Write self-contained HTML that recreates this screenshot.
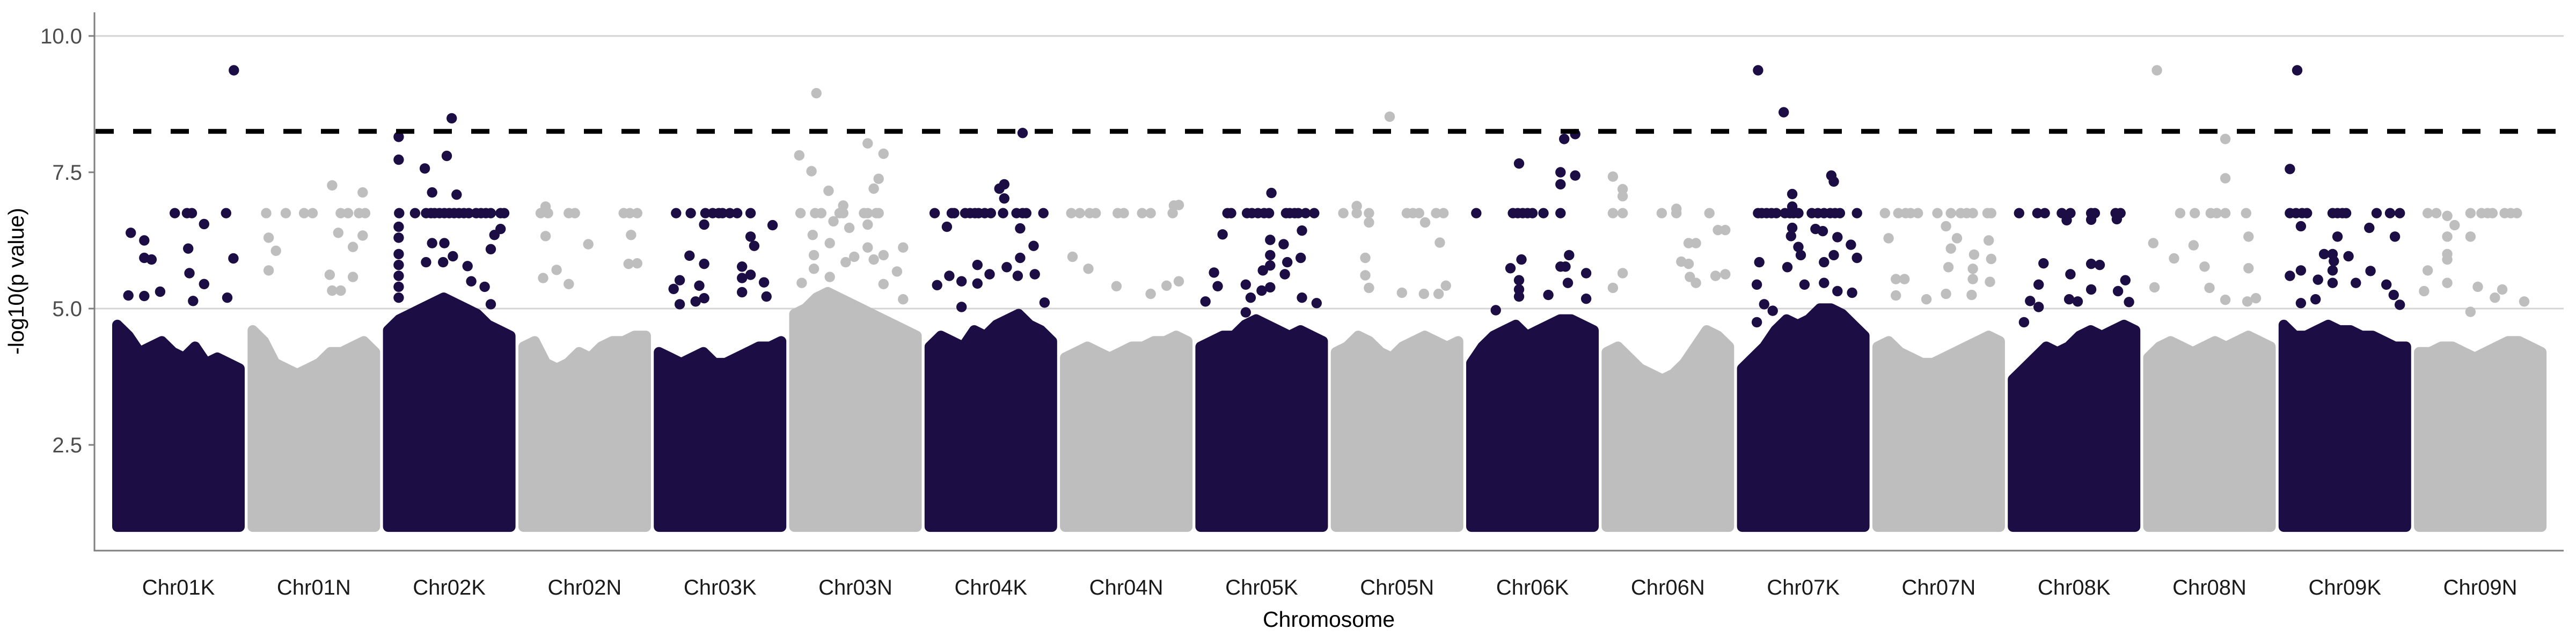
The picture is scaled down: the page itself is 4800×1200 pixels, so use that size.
<!DOCTYPE html>
<html><head><meta charset="utf-8"><style>
html,body{margin:0;padding:0;background:#fff;width:4800px;height:1200px;overflow:hidden}
svg{display:block}
text{font-family:"Liberation Sans",sans-serif}
</style></head><body>
<svg id="chart" width="4800" height="1200" viewBox="0 0 4800 1200" xmlns="http://www.w3.org/2000/svg">
<g id="grid"></g>
<g id="blocks"></g>
<g id="pts"></g>
<g id="thr"></g>
<g id="axes"></g>
<text x="2476" y="1168" font-size="41" text-anchor="middle" fill="#000">Chromosome</text>
<text x="0" y="0" font-size="41" text-anchor="middle" fill="#000" transform="translate(44,524) rotate(-90)">-log10(p value)</text>
</svg>
<script>
const chromosomes = ["Chr01K","Chr01N","Chr02K","Chr02N","Chr03K","Chr03N","Chr04K","Chr04N","Chr05K","Chr05N","Chr06K","Chr06N","Chr07K","Chr07N","Chr08K","Chr08N","Chr09K","Chr09N"];
const yTicks = [2.5, 5.0, 7.5, 10.0];
const yTickLabels = ["2.5","5.0","7.5","10.0"];
const gridValues = [5.0, 10.0];
const threshold = 8.25;
const capLevel = 6.75;
const blockEnvelope = [
[4.7,4.5,4.2,4.3,4.4,4.2,4.1,4.3,4.0,4.1,4.0,3.9],
[4.6,4.4,4.0,3.9,3.8,3.9,4.0,4.2,4.2,4.3,4.4,4.2],
[4.6,4.8,4.9,5.0,5.1,5.2,5.1,5.0,4.9,4.7,4.6,4.5],
[4.3,4.4,4.0,3.9,4.0,4.2,4.1,4.3,4.4,4.4,4.5,4.5],
[4.2,4.1,4.0,4.1,4.2,4.0,4.0,4.1,4.2,4.3,4.3,4.4],
[4.9,5.0,5.2,5.3,5.2,5.1,5.0,4.9,4.8,4.7,4.6,4.5],
[4.3,4.5,4.4,4.3,4.6,4.5,4.7,4.8,4.9,4.7,4.6,4.4],
[4.1,4.2,4.3,4.2,4.1,4.2,4.3,4.3,4.4,4.4,4.5,4.4],
[4.3,4.4,4.5,4.5,4.7,4.8,4.7,4.6,4.5,4.6,4.5,4.4],
[4.2,4.3,4.5,4.4,4.2,4.1,4.3,4.4,4.5,4.4,4.3,4.4],
[4.0,4.3,4.5,4.6,4.7,4.5,4.6,4.7,4.8,4.8,4.7,4.6],
[4.2,4.3,4.1,3.9,3.8,3.7,3.8,4.0,4.3,4.6,4.5,4.3],
[3.9,4.1,4.3,4.6,4.8,4.7,4.8,5.0,5.0,4.9,4.7,4.5],
[4.3,4.4,4.2,4.1,4.0,4.0,4.1,4.2,4.3,4.4,4.5,4.4],
[3.7,3.9,4.1,4.3,4.2,4.3,4.5,4.6,4.5,4.6,4.7,4.6],
[4.1,4.3,4.4,4.3,4.2,4.3,4.4,4.3,4.4,4.5,4.4,4.3],
[4.7,4.5,4.5,4.6,4.7,4.6,4.6,4.5,4.5,4.4,4.3,4.3],
[4.2,4.2,4.3,4.3,4.2,4.1,4.2,4.3,4.4,4.4,4.3,4.2]
];
const capPositions = [
[.47,.57,.61,.89],
[.11,.27,.42,.49,.72,.78,.87,.92],
[.09,.22,.31,.35,.38,.42,.46,.50,.54,.58,.62,.66,.72,.76,.80,.84,.92,.95],
[.14,.2,.37,.42,.82,.87,.93],
[.14,.26,.38,.44,.49,.52,.58,.64,.75],
[.05,.17,.22,.37,.4,.57,.6,.67,.69],
[.04,.18,.2,.29,.33,.37,.4,.45,.5,.6,.71,.76,.79,.93],
[.05,.12,.2,.25,.43,.48,.63,.7,.88],
[.22,.25,.38,.42,.47,.52,.56,.7,.73,.77,.8,.86,.93],
[.06,.17,.27,.58,.63,.68,.82,.88],
[.04,.34,.38,.42,.46,.5,.59,.73],
[.05,.13,.45,.57,.84],
[.13,.16,.2,.24,.28,.35,.39,.42,.46,.57,.62,.67,.72,.76,.8,.94],
[.06,.17,.23,.27,.33,.49,.6,.68,.73,.78,.9,.93],
[.05,.2,.26,.4,.47,.64,.67,.84,.88],
[.26,.38,.51,.56,.63,.8],
[.05,.1,.15,.19,.4,.44,.48,.51,.76,.87,.95],
[.07,.14,.42,.51,.56,.6,.7,.75,.8]
];
const scatterPoints = [
[[.954,9.37],[.11,6.39],[.22,6.25],[.22,5.93],[.28,5.9],[.71,6.55],[.58,6.1],[.59,5.65],[.71,5.45],[.95,5.92],[.35,5.31],[.22,5.23],[.62,5.14],[.9,5.2],[.09,5.24]],
[[.65,7.26],[.9,7.13],[.13,6.3],[.19,6.06],[.7,6.39],[.9,6.34],[.82,6.13],[.13,5.7],[.63,5.62],[.65,5.33],[.72,5.33],[.82,5.58]],
[[.086,8.15],[.086,7.73],[.30,7.57],[.48,7.8],[.52,8.49],[.36,7.13],[.56,7.09],[.92,6.46],[.87,6.35],[.84,6.09],[.36,6.2],[.46,6.2],[.086,6.5],[.086,6.3],[.086,6.0],[.086,5.8],[.086,5.6],[.086,5.4],[.086,5.2],[.31,5.85],[.45,5.85],[.53,5.96],[.65,5.78],[.68,5.5],[.79,5.4],[.84,5.08]],
[[.18,6.87],[.18,6.33],[.53,6.18],[.27,5.71],[.16,5.56],[.37,5.45],[.88,6.35],[.86,5.82],[.93,5.83]],
[[.37,6.54],[.93,6.53],[.75,6.32],[.78,6.15],[.25,5.97],[.37,5.82],[.68,5.77],[.75,5.62],[.68,5.56],[.86,5.48],[.33,5.42],[.68,5.3],[.17,5.52],[.12,5.36],[.37,5.19],[.88,5.22],[.17,5.08],[.3,5.13]],
[[.18,8.95],[.04,7.81],[.14,7.52],[.6,8.03],[.73,7.84],[.69,7.38],[.65,7.2],[.28,7.16],[.4,6.89],[.32,6.6],[.45,6.48],[.15,6.35],[.29,6.2],[.6,6.54],[.6,6.12],[.89,6.12],[.73,5.98],[.65,5.9],[.49,5.95],[.42,5.85],[.16,5.98],[.16,5.73],[.84,5.68],[.06,5.47],[.29,5.58],[.73,5.45],[.89,5.17]],
[[.76,8.22],[.61,7.28],[.57,7.2],[.61,7.02],[.14,6.5],[.74,6.47],[.85,6.15],[.74,5.93],[.39,5.8],[.63,5.76],[.16,5.6],[.26,5.5],[.49,5.63],[.86,5.63],[.06,5.43],[.39,5.46],[.72,5.6],[.94,5.11],[.26,5.03]],
[[.06,5.95],[.19,5.73],[.42,5.41],[.7,5.27],[.83,5.42],[.89,6.89],[.93,6.9],[.93,5.5]],
[[.58,7.12],[.18,6.36],[.83,6.43],[.57,6.26],[.68,6.18],[.57,5.98],[.82,5.93],[.71,5.85],[.51,5.7],[.57,5.79],[.69,5.63],[.11,5.66],[.37,5.44],[.14,5.41],[.57,5.39],[.5,5.33],[.41,5.2],[.83,5.2],[.04,5.13],[.95,5.1],[.37,4.93]],
[[.44,8.52],[.17,6.88],[.27,6.58],[.73,6.58],[.85,6.21],[.24,5.93],[.24,5.61],[.27,5.38],[.9,5.42],[.72,5.27],[.54,5.29],[.84,5.27]],
[[.76,8.11],[.85,8.2],[.39,7.66],[.73,7.5],[.85,7.44],[.73,7.28],[.41,5.9],[.32,5.74],[.8,5.98],[.73,5.77],[.77,5.77],[.94,5.65],[.39,5.52],[.39,5.35],[.39,5.22],[.79,5.47],[.63,5.25],[.94,5.18],[.2,4.97]],
[[.05,7.42],[.13,7.19],[.13,7.06],[.57,6.83],[.91,6.44],[.67,6.2],[.73,6.2],[.61,5.86],[.67,5.82],[.13,5.65],[.68,5.58],[.73,5.47],[.05,5.38],[.89,5.6],[.97,6.44],[.97,5.63]],
[[.13,9.37],[.34,8.6],[.73,7.44],[.75,7.33],[.41,7.1],[.41,6.87],[.41,6.48],[.4,6.33],[.6,6.46],[.66,6.42],[.78,6.31],[.89,6.17],[.94,5.93],[.46,6.13],[.48,5.98],[.14,5.85],[.37,5.76],[.67,5.85],[.75,5.98],[.12,5.44],[.51,5.44],[.67,5.47],[.78,5.32],[.9,5.29],[.18,5.08],[.25,4.96],[.12,4.75]],
[[.56,6.51],[.09,6.29],[.65,6.29],[.6,6.1],[.91,6.25],[.79,5.99],[.93,5.91],[.58,5.76],[.78,5.73],[.15,5.54],[.22,5.54],[.78,5.54],[.92,5.49],[.56,5.27],[.15,5.24],[.77,5.25],[.4,5.17]],
[[.44,6.62],[.64,6.63],[.85,6.64],[.25,5.83],[.64,5.82],[.71,5.8],[.47,5.63],[.92,5.52],[.21,5.44],[.64,5.35],[.86,5.32],[.46,5.17],[.14,5.14],[.53,5.13],[.21,5.03],[.95,5.12],[.09,4.75]],
[[.07,9.37],[.63,8.11],[.63,7.39],[.04,6.2],[.21,5.92],[.37,6.16],[.46,5.77],[.82,6.32],[.82,5.74],[.05,5.39],[.5,5.38],[.81,5.13],[.63,5.16],[.88,5.19]],
[[.11,9.37],[.05,7.56],[.14,6.51],[.7,6.48],[.44,6.32],[.91,6.32],[.33,6.0],[.4,6.0],[.53,5.96],[.41,5.87],[.14,5.7],[.4,5.7],[.71,5.69],[.28,5.53],[.4,5.47],[.59,5.47],[.84,5.44],[.05,5.6],[.14,5.1],[.26,5.17],[.9,5.25],[.95,5.07]],
[[.23,6.7],[.29,6.53],[.23,6.32],[.42,6.32],[.23,6.0],[.23,5.9],[.07,5.7],[.23,5.47],[.48,5.4],[.04,5.32],[.68,5.35],[.62,5.2],[.86,5.13],[.42,4.94]]
];

const NS = "http://www.w3.org/2000/svg";
const plotL = 176, plotR = 4777, plotT = 23, plotB = 1026;
const chrStart = 209, chrStep = 252.3, chrWidth = 247, R = 9.7;
const colors = ["#1c0e44", "#bebebe"];
function yScale(v){ return 67 + (10 - v) * 101.6; }
function chrLeft(k){ return chrStart + chrStep * k; }
function xScale(k, f){ return chrLeft(k) + R + (chrWidth - 2*R) * f; }
function mk(tag, attrs, parent){ const e = document.createElementNS(NS, tag); for (const a in attrs) e.setAttribute(a, attrs[a]); parent.appendChild(e); return e; }

const grid = document.getElementById("grid");
gridValues.forEach(v => {
  const l = mk("line", {x1: plotL, x2: plotR, y1: yScale(v), y2: yScale(v), stroke: "#d4d4d4", "stroke-width": 3}, grid);
  
  
});

const blocks = document.getElementById("blocks");
chromosomes.forEach((name, k) => {
  const env = blockEnvelope[k];
  const col = colors[k % 2];
  const yb = yScale(1);
  let d = "M" + xScale(k, 0) + "," + yb;
  env.forEach((v, i) => { d += " L" + xScale(k, i / (env.length - 1)).toFixed(1) + "," + yScale(v).toFixed(1); });
  d += " L" + xScale(k, 1) + "," + yb + " Z";
  const p = mk("path", {d: d, fill: col, stroke: col, "stroke-width": 2*R, "stroke-linejoin": "round"}, blocks);
  
  
});

const pts = document.getElementById("pts");
chromosomes.forEach((name, k) => {
  const col = colors[k % 2];
  capPositions[k].forEach(f => {
    const c = mk("circle", {cx: xScale(k, f).toFixed(1), cy: yScale(capLevel).toFixed(1), r: R, fill: col}, pts);
    
    
  });
  scatterPoints[k].forEach(pv => {
    const c = mk("circle", {cx: xScale(k, pv[0]).toFixed(1), cy: yScale(pv[1]).toFixed(1), r: R, fill: col}, pts);
    
    
  });
});

const thr = document.getElementById("thr");
const tl = mk("line", {x1: 178, x2: plotR, y1: yScale(threshold), y2: yScale(threshold), stroke: "#000", "stroke-width": 9, "stroke-dasharray": "34 36"}, thr);



const axes = document.getElementById("axes");
const ya = mk("line", {x1: plotL, x2: plotL, y1: plotT, y2: plotB + 1.5, stroke: "#7f7f7f", "stroke-width": 3}, axes);


const xa = mk("line", {x1: plotL - 1.5, x2: plotR, y1: plotB, y2: plotB, stroke: "#7f7f7f", "stroke-width": 3}, axes);


yTicks.forEach((v, i) => {
  const t = mk("line", {x1: 165, x2: plotL, y1: yScale(v), y2: yScale(v), stroke: "#7f7f7f", "stroke-width": 3}, axes);
  
  
  const tx = mk("text", {x: 153, y: yScale(v) + 14, "font-size": 40, "text-anchor": "end", fill: "#4d4d4d"}, axes);
  tx.textContent = yTickLabels[i];
  
  
});
chromosomes.forEach((name, k) => {
  const tx = mk("text", {x: (chrLeft(k) + chrWidth/2).toFixed(1), y: 1108, "font-size": 40, "text-anchor": "middle", fill: "#1a1a1a"}, axes);
  tx.textContent = name;
  
  
});
</script>
</body></html>
